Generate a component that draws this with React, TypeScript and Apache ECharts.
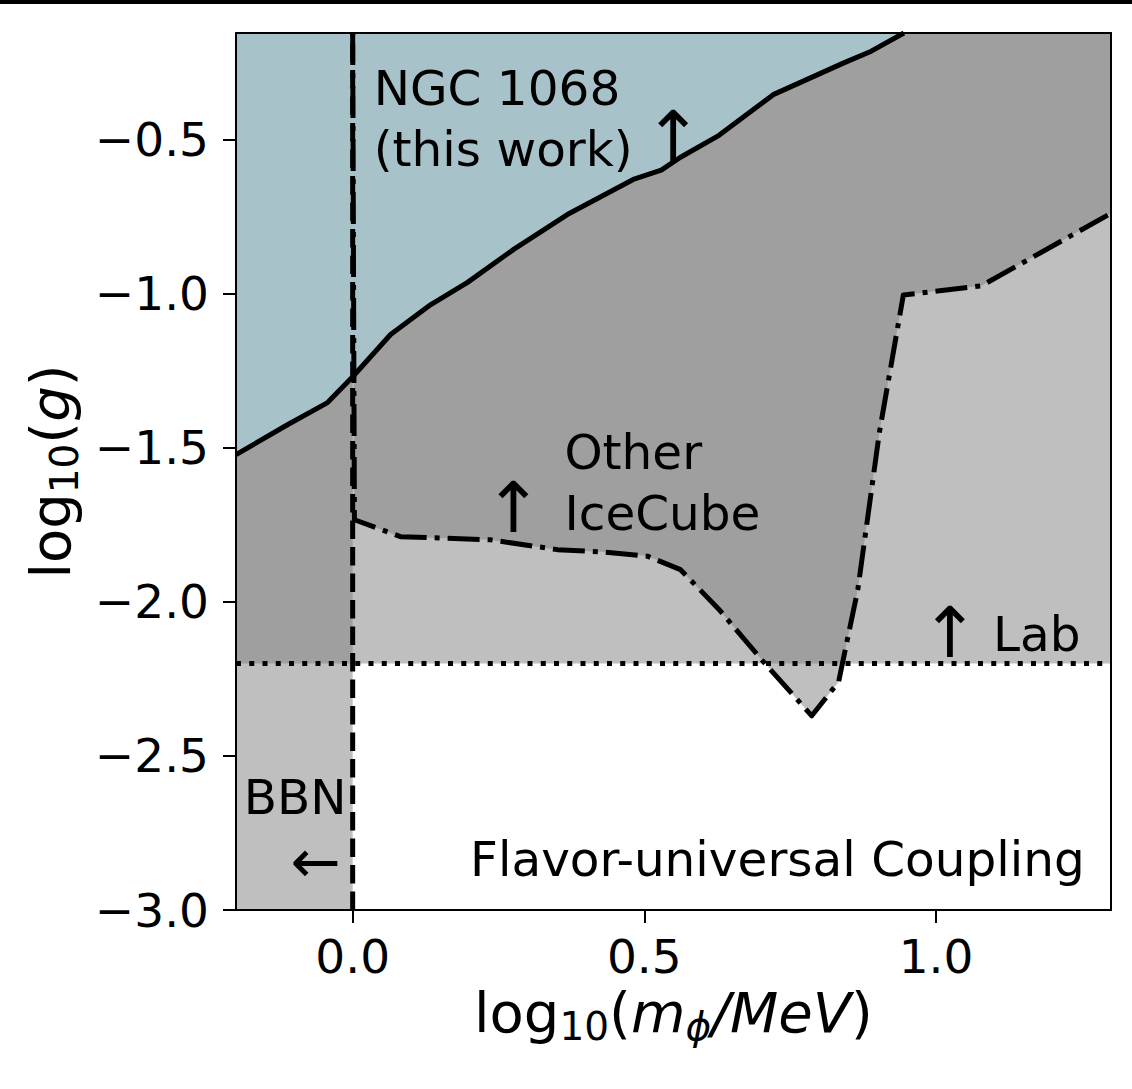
import React, { useEffect, useRef } from "react";
import * as echarts from "echarts";

// ---- axis ranges and ticks ----
const X_MIN = -0.2;
const X_MAX = 1.3;
const Y_MIN = -3.0;
const Y_MAX = -0.155;
const xTicks = [0.0, 0.5, 1.0];
const yTicks = [-3.0, -2.5, -2.0, -1.5, -1.0, -0.5];

// ---- NGC 1068 (this work) limit: solid line ----
const ngcX = [-0.2, -0.111, -0.043, 0.0, 0.065, 0.134, 0.197, 0.276, 0.368, 0.481, 0.529, 0.562, 0.628, 0.721, 0.842, 0.889, 0.945];
const ngcY = [-1.523, -1.425, -1.354, -1.27, -1.133, -1.036, -0.964, -0.857, -0.744, -0.63, -0.6, -0.558, -0.487, -0.355, -0.252, -0.214, -0.155];

// ---- Other IceCube limit: dash-dot line ----
const iceX = [0.0, 0.003, 0.082, 0.236, 0.351, 0.425, 0.505, 0.562, 0.628, 0.702, 0.787, 0.833, 0.866, 0.903, 0.944, 1.078, 1.3];
const iceY = [-0.155, -1.734, -1.789, -1.799, -1.831, -1.838, -1.852, -1.896, -2.025, -2.19, -2.37, -2.26, -1.96, -1.45, -1.005, -0.975, -0.74];

// ---- Lab limit (dotted) and BBN limit (dashed) ----
const labY = -2.2;
const bbnX = 0.0;

// ---- annotations ----
const annotTexts = ["NGC 1068\n(this work)", "↑", "Other\nIceCube", "↑", "↑", "Lab", "BBN", "←", "Flavor-universal Coupling"];
const annotX = [0.036, 0.5497, 0.363, 0.2757, 1.024, 1.0976, -0.1866, -0.0634, 1.255];
const annotY = [-0.4334, -0.4935, -1.6136, -1.695, -2.1006, -2.104, -2.633, -2.842, -2.834];
const annotAlign = ["left", "center", "left", "center", "center", "left", "left", "center", "right"];

const FONT = "DejaVu Sans";
const zip = (xs: number[], ys: number[]) => xs.map((x, i) => [x, ys[i]]);

function polygonSeries(points: number[][], fill: string, z: number) {
  return {
    type: "custom",
    coordinateSystem: "cartesian2d",
    silent: true,
    clip: true,
    z,
    data: points,
    renderItem: (params: any, api: any) => {
      if (params.dataIndex !== 0) return null;
      return {
        type: "polygon",
        shape: { points: points.map((p) => api.coord(p)) },
        style: { fill, stroke: null },
      };
    },
  };
}

const LW = 5;
function lineSeries(points: number[][], dash: any, z: number) {
  return {
    type: "line",
    data: points,
    symbol: "none",
    silent: true,
    clip: true,
    z,
    lineStyle: { color: "#000", width: LW, type: dash, cap: "butt", join: "round", opacity: 1 },
  };
}

const fmt = (v: number) => v.toFixed(1).replace("-", "\u2212");

export default function App() {
  const ref = useRef<HTMLDivElement>(null);
  useEffect(() => {
    document.body.style.margin = "0";
    if (!ref.current) return;
    const chart = echarts.init(ref.current, null, { renderer: "svg" });

    const ngcPts = zip(ngcX, ngcY);
    const icePts = zip(iceX, iceY);
    const labPts = [[X_MIN, labY], [X_MAX, labY]];
    const bbnPts = [[bbnX, Y_MIN], [bbnX, Y_MAX]];

    const regionLab = [[X_MIN, labY], [X_MAX, labY], [X_MAX, Y_MAX], [X_MIN, Y_MAX]];
    const regionBbn = [[X_MIN, Y_MIN], [bbnX, Y_MIN], [bbnX, Y_MAX], [X_MIN, Y_MAX]];
    const regionIce = [...icePts, [X_MAX, Y_MAX]];
    const regionNgc = [...ngcPts, [X_MIN, Y_MAX]];

    const shade = "rgba(128,128,128,0.5)";
    const blue = "#a8c2c9";

    const rich = {
      n: { fontSize: 56, fontFamily: FONT, color: "#000", lineHeight: 66 },
      i: { fontSize: 56, fontFamily: FONT, color: "#000", fontStyle: "italic", lineHeight: 66 },
      s: { fontSize: 39, fontFamily: FONT, color: "#000", lineHeight: 37, verticalAlign: "bottom" },
      si: { fontSize: 39, fontFamily: FONT, color: "#000", fontStyle: "italic", lineHeight: 37, verticalAlign: "bottom" },
    };

    const axisCommon = {
      type: "value",
      z: 10,
      splitLine: { show: false },
      axisLine: { show: true, onZero: false, lineStyle: { color: "#000", width: 2 } },
    };

    chart.setOption({
      animation: false,
      backgroundColor: "#fff",
      grid: { left: 236, right: 21, top: 33, bottom: 179, outerBoundsMode: "none", containLabel: false },
      graphic: [
        { type: "rect", shape: { x: 0, y: 0, width: 1132, height: 4 }, style: { fill: "#000" }, z: 100 },
      ],
      xAxis: [
        {
          ...axisCommon,
          min: X_MIN,
          max: X_MAX,
          position: "bottom",
          axisTick: { show: true, length: 13, lineStyle: { color: "#000", width: 2 }, customValues: xTicks },
          axisLabel: { customValues: xTicks, formatter: fmt, fontSize: 47, fontFamily: FONT, color: "#000", margin: 23 },
          name: "{n|log}{s|10}{n|(}{i|m}{si|ϕ}{i|/MeV}{n|)}",
          nameLocation: "middle",
          nameGap: 66,
          nameTextStyle: { rich },
        },
        {
          ...axisCommon,
          min: X_MIN,
          max: X_MAX,
          position: "top",
          axisTick: { show: false },
          axisLabel: { show: false },
        },
      ],
      yAxis: [
        {
          ...axisCommon,
          min: Y_MIN,
          max: Y_MAX,
          position: "left",
          axisTick: { show: true, length: 13, lineStyle: { color: "#000", width: 2 }, customValues: yTicks },
          axisLabel: { customValues: yTicks, formatter: fmt, fontSize: 47, fontFamily: FONT, color: "#000", margin: 27 },
          name: "{n|log}{s|10}{n|(}{i|g}{n|)}",
          nameLocation: "middle",
          nameRotate: 90,
          nameGap: 152,
          nameTextStyle: { rich },
        },
        {
          ...axisCommon,
          min: Y_MIN,
          max: Y_MAX,
          position: "right",
          axisTick: { show: false },
          axisLabel: { show: false },
        },
      ],
      series: [
        polygonSeries(regionLab, shade, 1),
        polygonSeries(regionBbn, shade, 2),
        polygonSeries(regionIce, shade, 3),
        polygonSeries(regionNgc, blue, 4),
        lineSeries(labPts, [LW, 1.65 * LW], 5),
        lineSeries(bbnPts, [3.7 * LW, 1.6 * LW], 6),
        lineSeries(icePts, [6.4 * LW, 1.6 * LW, LW, 1.6 * LW], 7),
        lineSeries(ngcPts, "solid", 8),
        {
          type: "scatter",
          silent: true,
          z: 9,
          symbolSize: 0,
          itemStyle: { opacity: 1 },
          data: annotTexts.map((t, i) => {
            const multi = t.indexOf("\n") >= 0;
            const size = t === "↑" ? 70 : t === "←" ? 60 : 48.5;
            return {
              value: [annotX[i], annotY[i]],
              label: {
                show: true,
                formatter: t,
                position: [0, 0],
                align: annotAlign[i],
                verticalAlign: "middle",
                fontFamily: FONT,
                fontSize: size,
                lineHeight: multi ? 61 : t === "←" ? 30 : t === "↑" ? 56 : 44,
                color: "#000",
                opacity: 1,
              },
            };
          }),
        },
      ],
    });
    return () => chart.dispose();
  }, []);
  return <div ref={ref} style={{ width: 1132, height: 1089 }} />;
}
